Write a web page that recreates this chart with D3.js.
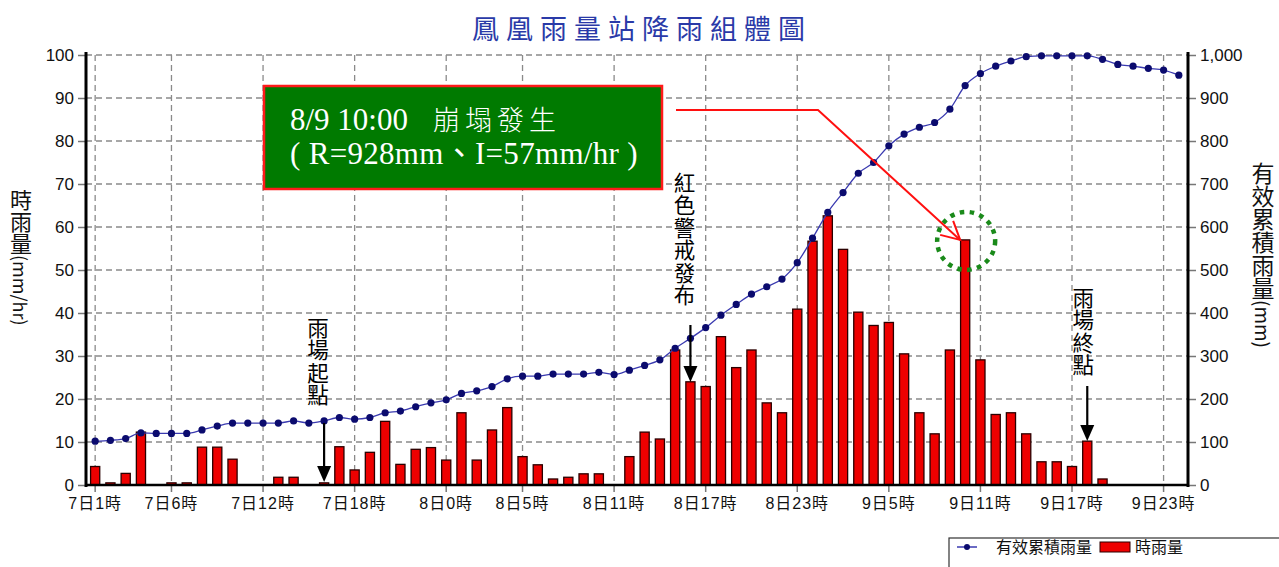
<!DOCTYPE html>
<html><head><meta charset="utf-8">
<script src="https://cdn.jsdelivr.net/npm/d3@7/dist/d3.min.js"></script>
<style>body{margin:0;background:#fff}svg{display:block}</style>
</head><body>
<svg id="c" width="1279" height="567"></svg>
<script>
// ---- data ----
const hourlyRain = [4.3,0.5,2.7,12.3,0,0.5,0.5,8.8,8.8,6.0,
  0,0,1.8,1.8,0,0.5,8.9,3.5,7.6,14.8,
  4.8,8.3,8.7,5.8,16.8,5.8,12.8,18.0,6.6,4.7,
  1.4,1.8,2.6,2.6,0,6.6,12.3,10.7,31.4,24.0,
  22.9,34.5,27.3,31.4,19.1,16.8,40.9,56.7,62.6,54.8,
  40.2,37.1,37.8,30.5,16.8,11.9,31.4,57,29.1,16.4,
  16.8,11.9,5.4,5.4,4.3,10.2,1.4,0,0,0,
  0,0];
const effCum = [102,104,108,121,120,120,120,128,137,144,
  144,144,144,149,144,149,157,153,157,168,
  172,182,191,198,213,219,229,247,253,253,
  258,258,258,262,257,267,278,291,318,341,
  366,395,420,444,461,479,517,574,634,680,
  725,750,789,816,832,843,874,929,957,974,
  986,996,998,998,998,998,990,978,974,969,
  965,953];
const tickLabels = ["7日1時","7日6時","7日12時","7日18時","8日0時","8日5時","8日11時","8日17時","8日23時","9日5時","9日11時","9日17時","9日23時"];
const leftTicks = [0,10,20,30,40,50,60,70,80,90,100];
const rightTicks = [0,100,200,300,400,500,600,700,800,900,1000];
const title = "鳳凰雨量站降雨組體圖";
const legendLabels = ["有效累積雨量","時雨量"];
const eventTime = "8/9 10:00";
const eventName = "崩塌發生";
const eventValues = "( R=928mm、I=57mm/hr )";
const marks = [
  {label:"雨場起點", hour:"7日16時"},
  {label:"紅色警戒發布", hour:"8日16時"},
  {label:"雨場終點", hour:"9日18時"}
];
const collapseHour = "9日10時";

// categories: 7日1時 ... 10日0時
const hours = [];
for (let d = 7; d <= 9; d++) for (let h = (d === 7 ? 1 : 0); h < 24; h++) hours.push(d + "日" + h + "時");
hours.push("10日0時");

// ---- layout ----
const L = 86, R = 1188, T = 55, B = 485;
const svg = d3.select("#c");
const x = d3.scaleBand().domain(hours).range([L, R]).paddingInner(0.4).paddingOuter(0.3);
const yL = d3.scaleLinear().domain([0, 100]).range([B, T]);
const yR = d3.scaleLinear().domain([0, 1000]).range([B, T]);
const cx = h => x(h) + x.bandwidth() / 2;

// title
svg.append("text").attr("x", 642).attr("y", 39).attr("text-anchor", "middle")
  .attr("font-family", "'Noto Sans CJK TC'").attr("font-size", 27).attr("letter-spacing", 7)
  .attr("fill", "#2a3aa8").text(title);

// grid
const grid = svg.append("g").attr("stroke", "#8a8a8a").attr("stroke-dasharray", "6,4").attr("stroke-width", 1.3);
leftTicks.forEach(v => grid.append("line").attr("x1", L).attr("x2", R).attr("y1", yL(v)).attr("y2", yL(v)));
tickLabels.forEach(t => grid.append("line").attr("x1", cx(t)).attr("x2", cx(t)).attr("y1", T).attr("y2", B));

// axes
const axL = svg.append("g").attr("transform", `translate(${L},0)`)
  .call(d3.axisLeft(yL).tickValues(leftTicks).tickSize(8).tickPadding(4));
const axR = svg.append("g").attr("transform", `translate(${R},0)`)
  .call(d3.axisRight(yR).tickValues(rightTicks).tickSize(8).tickPadding(4).tickFormat(d3.format(",")));
const axB = svg.append("g").attr("transform", `translate(0,${B})`)
  .call(d3.axisBottom(x).tickValues(tickLabels).tickSize(7).tickPadding(6));
[axL, axR, axB].forEach(a => {
  a.selectAll("text").attr("font-family", "'Liberation Sans', Arial, 'Noto Sans CJK TC'").attr("font-size", 17).attr("fill", "#111");
  a.selectAll(".tick line").attr("stroke", "#777").attr("stroke-width", 1.5);
  a.select(".domain").remove();
});
axB.selectAll("text").attr("font-size", 16).attr("letter-spacing", 1);
svg.append("line").attr("x1", L).attr("x2", L).attr("y1", T - 3).attr("y2", B + 2).attr("stroke", "#000").attr("stroke-width", 3);
svg.append("line").attr("x1", R).attr("x2", R).attr("y1", T - 3).attr("y2", B + 2).attr("stroke", "#000").attr("stroke-width", 3);

// bars
svg.append("g").selectAll("rect").data(hourlyRain).join("rect")
  .attr("x", (d, i) => x(hours[i])).attr("width", x.bandwidth())
  .attr("y", d => yL(d)).attr("height", d => B - yL(d))
  .attr("fill", "#ee0000").attr("stroke", "#2a0000").attr("stroke-width", 1.3);

svg.append("line").attr("x1", L).attr("x2", R).attr("y1", B).attr("y2", B).attr("stroke", "#000").attr("stroke-width", 2.5);

// cumulative line
const line = d3.line().x((d, i) => cx(hours[i])).y(d => yR(d)).curve(d3.curveMonotoneX);
svg.append("path").datum(effCum).attr("d", line).attr("fill", "none").attr("stroke", "#3a3ab0").attr("stroke-width", 1.3);
svg.append("g").selectAll("circle").data(effCum).join("circle")
  .attr("cx", (d, i) => cx(hours[i])).attr("cy", d => yR(d)).attr("r", 3.6).attr("fill", "#0b0b6e");

// axis titles (vertical)
function vtext(xp, yp, parts, size) {
  const t = svg.append("text").attr("x", xp).attr("y", yp)
    .attr("font-family", "'Noto Sans CJK TC', 'Liberation Sans'").attr("font-size", size)
    .style("writing-mode", "vertical-rl").attr("fill", "#111");
  parts.forEach(p => t.append("tspan").attr("font-size", p[1] || size).text(p[0]));
  return t;
}
vtext(21, 189, [["時雨量"], ["(mm/hr)", 18]], 22);
vtext(1263, 162, [["有效累積雨量"], ["(mm)", 19]], 23);

// event annotations with arrows
const arrowSpec = [
  {textTop: 317, shaftTop: 423, tip: 482, dx: -6},
  {textTop: 172, shaftTop: 325, tip: 382, dx: -6},
  {textTop: 287, shaftTop: 386, tip: 441, dx: -4}
];
marks.forEach((m, k) => {
  const s = arrowSpec[k];
  const ax = cx(m.hour);
  vtext(ax + s.dx, s.textTop, [[m.label]], 21.5).attr("letter-spacing", 1).attr("fill", "#000");
  svg.append("line").attr("x1", ax).attr("x2", ax).attr("y1", s.shaftTop).attr("y2", s.tip - 10)
    .attr("stroke", "#000").attr("stroke-width", 2.2);
  svg.append("path").attr("d", `M${ax - 7},${s.tip - 16}L${ax + 7},${s.tip - 16}L${ax},${s.tip}Z`).attr("fill", "#000");
});

// collapse callout
const px = cx(collapseHour), py = yL(hourlyRain[hours.indexOf(collapseHour)]);
svg.append("circle").attr("cx", px + 1).attr("cy", py + 1).attr("r", 29)
  .attr("fill", "none").attr("stroke", "#1a8a1a").attr("stroke-width", 4.5).attr("stroke-dasharray", "4.5,5.5");
svg.append("path").attr("d", `M676,110L818,110L${px - 5},${py}`)
  .attr("fill", "none").attr("stroke", "#ff1010").attr("stroke-width", 2);
svg.append("path").attr("d", `M${px - 25},${py - 5}L${px - 5},${py}L${px - 12},${py - 19}`)
  .attr("fill", "none").attr("stroke", "#ff1010").attr("stroke-width", 2);

svg.append("rect").attr("x", 264).attr("y", 86).attr("width", 398).attr("height", 103)
  .attr("fill", "#007a00").attr("stroke", "#ff1a1a").attr("stroke-width", 2.5);
const et = svg.append("text").attr("font-family", "'Liberation Serif', 'Noto Sans CJK TC'").attr("font-size", 31).attr("fill", "#fff");
et.append("tspan").attr("x", 290).attr("y", 130).text(eventTime);
et.append("tspan").attr("x", 433).attr("y", 130).attr("font-size", 27).attr("letter-spacing", 5).attr("font-weight", 300).text(eventName);
et.append("tspan").attr("x", 290).attr("y", 164).attr("letter-spacing", 0.3).text(eventValues);

// legend
const lg = svg.append("g");
lg.append("rect").attr("x", 949).attr("y", 538).attr("width", 340).attr("height", 40).attr("fill", "#fff").attr("stroke", "#333").attr("stroke-width", 1.2);
lg.append("line").attr("x1", 957).attr("x2", 977).attr("y1", 547).attr("y2", 547).attr("stroke", "#3a3ab0").attr("stroke-width", 1.5);
lg.append("circle").attr("cx", 967).attr("cy", 547).attr("r", 3).attr("fill", "#0b0b6e");
lg.append("text").attr("x", 996).attr("y", 553).attr("font-family", "'Noto Sans CJK TC'").attr("font-size", 16).attr("fill", "#111").text(legendLabels[0]);
lg.append("rect").attr("x", 1100).attr("y", 542).attr("width", 30).attr("height", 10).attr("fill", "#ee0000").attr("stroke", "#2a0000");
lg.append("text").attr("x", 1135).attr("y", 553).attr("font-family", "'Noto Sans CJK TC'").attr("font-size", 16).attr("fill", "#111").text(legendLabels[1]);
</script>
</body></html>
